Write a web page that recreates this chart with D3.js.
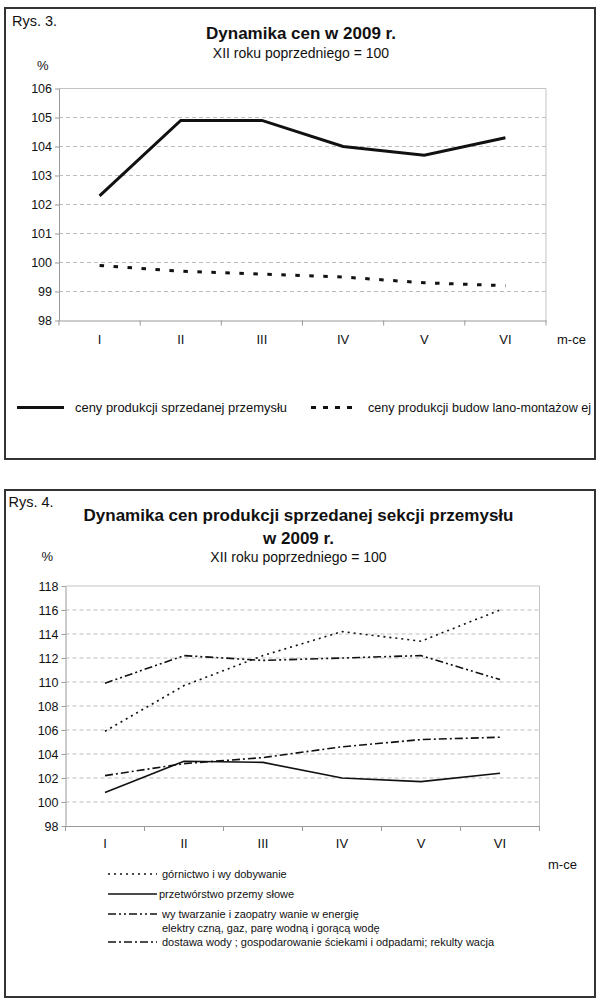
<!DOCTYPE html>
<html lang="pl">
<head>
  <meta charset="utf-8">
  <title>Dynamika cen w 2009 r.</title>
  <script src="https://d3js.org/d3.v7.min.js"></script>
  <style>
    body { margin: 0; background: #fff; }
    svg text { font-family: "Liberation Sans", Arial, sans-serif; fill: #111; }
  </style>
</head>
<body>
<div id="my_dataviz"></div>
<script>

  // months on the x axis
  const months = ["I", "II", "III", "IV", "V", "VI"];

  // Rys. 3 - data
  const przemysl = [102.3, 104.9, 104.9, 104.0, 103.7, 104.3];
  const budownictwo = [99.9, 99.7, 99.6, 99.5, 99.3, 99.2];
  const ticks3 = [98, 99, 100, 101, 102, 103, 104, 105, 106];
  const legend3 = ["ceny produkcji sprzedanej przemysłu", "ceny produkcji budow lano-montażow ej"];

  // Rys. 4 - data
  const gornictwo = [105.9, 109.7, 112.2, 114.2, 113.4, 116.0];
  const przetworstwo = [100.8, 103.4, 103.3, 102.0, 101.7, 102.4];
  const energia = [109.9, 112.2, 111.8, 112.0, 112.2, 110.2];
  const woda = [102.2, 103.2, 103.7, 104.6, 105.2, 105.4];
  const ticks4 = [98, 100, 102, 104, 106, 108, 110, 112, 114, 116, 118];
  const legend4 = [
    ["górnictwo i wy dobywanie"],
    ["przetwórstwo przemy słowe"],
    ["wy twarzanie i zaopatry wanie w energię", "elektry czną, gaz, parę wodną i gorącą wodę"],
    ["dostawa wody ; gospodarowanie ściekami i odpadami; rekulty wacja"]
  ];

  const svg = d3.select("#my_dataviz")
    .append("svg")
    .attr("width", 600)
    .attr("height", 1001);

  // draws one framed chart (box, titles, grid, axes, lines)
  function drawChart(cfg) {
    const g = svg.append("g");

    g.append("rect")
      .attr("x", cfg.box[0]).attr("y", cfg.box[1])
      .attr("width", cfg.box[2] - cfg.box[0]).attr("height", cfg.box[3] - cfg.box[1])
      .attr("fill", "none").attr("stroke", "#333").attr("stroke-width", 2);

    g.append("text").attr("x", cfg.rys[0]).attr("y", cfg.rys[1])
      .style("font-size", "14.5px").text(cfg.rysText);

    cfg.title.forEach(function (t, i) {
      g.append("text").attr("x", cfg.titleX).attr("y", cfg.titleY[i])
        .attr("text-anchor", "middle")
        .style("font-size", "17px").style("font-weight", "bold")
        .text(t);
    });
    g.append("text").attr("x", cfg.titleX).attr("y", cfg.subY)
      .attr("text-anchor", "middle").style("font-size", "14px")
      .text("XII roku poprzedniego = 100");
    g.append("text").attr("x", cfg.pct[0]).attr("y", cfg.pct[1])
      .style("font-size", "13px").text("%");

    const x = d3.scaleBand().domain(months).range([cfg.left, cfg.right]);
    const y = d3.scaleLinear().domain(d3.extent(cfg.ticks)).range([cfg.bottom, cfg.top]);

    // grid
    g.append("g").selectAll("line")
      .data(cfg.ticks.slice(1, -1))
      .join("line")
      .attr("x1", cfg.left).attr("x2", cfg.right)
      .attr("y1", d => y(d)).attr("y2", d => y(d))
      .attr("stroke", "#bdbdbd").attr("stroke-dasharray", "4,3");

    // plot frame top + right
    g.append("path")
      .attr("d", `M${cfg.left},${cfg.top}H${cfg.right}V${cfg.bottom}`)
      .attr("fill", "none").attr("stroke", "#c4c4c4");

    // y axis
    const ya = g.append("g")
      .attr("transform", `translate(${cfg.left},0)`)
      .call(d3.axisLeft(y).tickValues(cfg.ticks).tickSize(4).tickSizeOuter(0).tickPadding(3));
    ya.select(".domain").attr("stroke", "#999");
    ya.selectAll(".tick line").attr("stroke", "#999");
    ya.selectAll("text").style("font-size", "12.5px").attr("fill", "#111")
      .style("font-family", "'Liberation Sans', Arial, sans-serif");

    // x axis
    const xa = g.append("g")
      .attr("transform", `translate(0,${cfg.bottom})`)
      .call(d3.axisBottom(x).tickSize(0).tickPadding(cfg.xPad));
    xa.select(".domain").attr("stroke", "#999");
    xa.selectAll("text").style("font-size", "13px").attr("fill", "#111")
      .style("font-family", "'Liberation Sans', Arial, sans-serif");
    xa.selectAll(".tickmark")
      .data(months.map(m => x(m)).concat([x.range()[1]]))
      .join("line")
      .attr("x1", d => d).attr("x2", d => d)
      .attr("y1", 0).attr("y2", 5)
      .attr("stroke", "#999");

    g.append("text").attr("x", cfg.mce[0]).attr("y", cfg.mce[1])
      .style("font-size", "13px").text("m-ce");

    // series
    const line = d3.line()
      .x((d, i) => x(months[i]) + x.bandwidth() / 2)
      .y(d => y(d));
    cfg.series.forEach(function (s) {
      g.append("path")
        .datum(s.values)
        .attr("d", line)
        .attr("fill", "none")
        .attr("stroke", "#111")
        .attr("stroke-width", s.width)
        .attr("stroke-dasharray", s.dash);
    });

    return g;
  }

  // Rys. 3
  const g3 = drawChart({
    box: [5, 8, 595, 459],
    rys: [12, 25.5], rysText: "Rys. 3.",
    title: ["Dynamika cen w 2009 r."], titleX: 301, titleY: [39], subY: 57.5,
    pct: [37, 69.5],
    left: 59, right: 546, top: 88.5, bottom: 320.5,
    ticks: ticks3, xPad: 14,
    mce: [557, 343.5],
    series: [
      { values: przemysl, width: 3, dash: null },
      { values: budownictwo, width: 3, dash: "4.5,9.5" }
    ]
  });

  const leg3 = [
    { x1: 17, x2: 64, tx: 75, w: 212, dash: null },
    { x1: 311, x2: 358, tx: 368, w: 223, dash: "5,7" }
  ];
  leg3.forEach(function (l, i) {
    g3.append("line").attr("x1", l.x1).attr("x2", l.x2).attr("y1", 407.5).attr("y2", 407.5)
      .attr("stroke", "#111").attr("stroke-width", 3).attr("stroke-dasharray", l.dash);
    g3.append("text").attr("x", l.tx).attr("y", 412).style("font-size", "13px")
      .attr("textLength", l.w).attr("lengthAdjust", "spacingAndGlyphs")
      .text(legend3[i]);
  });

  // Rys. 4
  const dash4 = ["2,4", null, "8,3,2,3,2,3", "8,3,2,3"];
  const g4 = drawChart({
    box: [5, 490, 595, 997],
    rys: [8.5, 507], rysText: "Rys. 4.",
    title: ["Dynamika cen produkcji sprzedanej sekcji przemysłu", "w 2009 r."],
    titleX: 298.5, titleY: [520.5, 544], subY: 562,
    pct: [41.5, 561],
    left: 65.5, right: 539.5, top: 586, bottom: 826,
    ticks: ticks4, xPad: 13,
    mce: [548, 868.5],
    series: [
      { values: gornictwo, width: 1.6, dash: dash4[0] },
      { values: przetworstwo, width: 1.6, dash: dash4[1] },
      { values: energia, width: 1.6, dash: dash4[2] },
      { values: woda, width: 1.6, dash: dash4[3] }
    ]
  });

  const legY4 = [874, 894, 914, 942];
  legend4.forEach(function (lines, i) {
    g4.append("line").attr("x1", 108).attr("x2", 157).attr("y1", legY4[i]).attr("y2", legY4[i])
      .attr("stroke", "#111").attr("stroke-width", 1.6).attr("stroke-dasharray", dash4[i]);
    lines.forEach(function (t, j) {
      g4.append("text").attr("x", i === 1 ? 159 : 162).attr("y", legY4[i] + 4 + j * 14)
        .style("font-size", "11px").text(t);
    });
  });

</script>
</body>
</html>
